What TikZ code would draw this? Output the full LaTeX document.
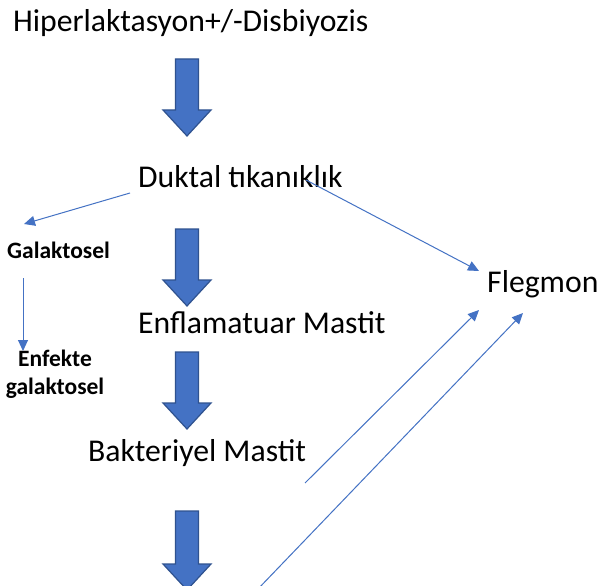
\documentclass[tikz,border=0pt]{standalone}
\usepackage{fontspec}
\setmainfont{Carlito}
\usetikzlibrary{arrows.meta}
\definecolor{blk}{HTML}{4472C4}
\definecolor{blkedge}{HTML}{2F528F}
\tikzset{
  big/.style={fill=blk,draw=blkedge,line width=1.2pt,line join=miter},
  txt/.style={anchor=base west,inner sep=0pt,font=\fontsize{31.7}{38}\selectfont},
  small/.style={inner sep=0pt,font=\fontsize{23.5}{28}\selectfont\bfseries,align=center},
  thin/.style={draw=blk,line width=1pt,-{Triangle[length=11pt,width=10pt]}}
}
\newcommand{\blockarrow}[2]{% #1 = shaft top y, #2 = tip y
  \path[big] (175.5,#1) -- (198.5,#1) -- (198.5,#2-26) -- (211,#2-26) -- (187,#2) -- (163,#2-26) -- (175.5,#2-26) -- cycle;}
\begin{document}
\begin{tikzpicture}[x=1pt,y=-1pt]
\useasboundingbox (0,0) rectangle (601,585);
\clip (0,0) rectangle (601,585);
\fill[white] (0,0) rectangle (601,585);
% texts
\node[txt] (hip) at (13,32) {Hiperlaktasyon+/-Disbiyozis};
\node[txt] (duk) at (138,187) {Duktal tıkanıklık};
\node[txt] (enf) at (138,333) {Enflamatuar Mastit};
\node[txt] (bak) at (88,461) {Bakteriyel Mastit};
\node[txt] (fle) at (487,292) {Flegmon};
\node[small,anchor=base west] (gal) at (7,258) {Galaktosel};
\node[small,anchor=base] (egal) at (55,394) {Enfekte\\galaktosel};
% block arrows
\blockarrow{59}{136}
\blockarrow{229}{306}
\blockarrow{352}{429}
\blockarrow{511}{590}
% thin connectors
\coordinate (d1) at (130,193);
\coordinate (g1) at (24,224);
\coordinate (d2) at (306,180);
\coordinate (f1) at (479,271);
\coordinate (g2) at (23,278);
\coordinate (e1) at (23,351);
\coordinate (b1) at (305,483);
\coordinate (f2) at (479,310);
\coordinate (l1) at (257,590);
\coordinate (f3) at (523,313);
\draw[thin] (d1) -- (g1);
\draw[thin] (d2) -- (f1);
\draw[thin] (g2) -- (e1);
\draw[thin] (b1) -- (f2);
\draw[thin] (l1) -- (f3);
\end{tikzpicture}
\end{document}
